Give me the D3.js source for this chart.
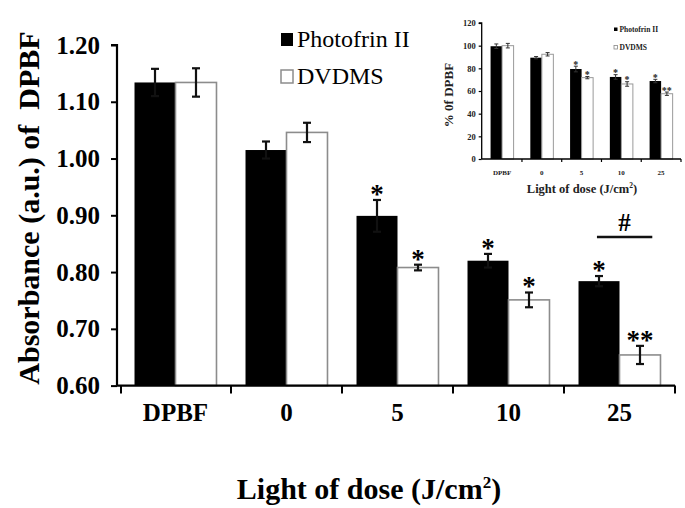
<!DOCTYPE html>
<html>
<head>
<meta charset="utf-8">
<script src="https://cdn.jsdelivr.net/npm/d3@7"></script>
<style>
  html, body { margin: 0; padding: 0; background: #fff; }
  svg { display: block; }
  text { font-family: "Liberation Serif", "Times New Roman", serif; }
</style>
</head>
<body>
<svg id="chart" width="685" height="508"></svg>
<script>
// ---------- Data (main chart) ----------
const categories = ["DPBF", "0", "5", "10", "25"];
const seriesNames = ["Photofrin II", "DVDMS"];
const photofrin = [1.134, 1.015, 0.899, 0.820, 0.784];
const photofrinErr = [0.024, 0.015, 0.028, 0.012, 0.009];
const dvdms = [1.134, 1.046, 0.808, 0.751, 0.654];
const dvdmsErr = [0.025, 0.017, 0.005, 0.013, 0.016];
const photofrinSig = ["", "", "*", "*", "*"];
const dvdmsSig = ["", "", "*", "*", "**"];
const yTicks = [0.60, 0.70, 0.80, 0.90, 1.00, 1.10, 1.20];
const hashCategory = "25";

// ---------- Data (inset) ----------
const insetPhotofrin = [99.5, 89.4, 79.4, 72.4, 68.8];
const insetPhotofrinErr = [2, 1, 2.5, 2, 1.5];
const insetDvdms = [100, 92.4, 71.8, 66.2, 57.6];
const insetDvdmsErr = [2, 1.5, 1, 2, 1.5];
const insetYTicks = [0, 20, 40, 60, 80, 100, 120];

const svg = d3.select("#chart");
const BLACK = "#000";
const GRAY = "#8c8c8c";

function buildRows(a, ae, b, be, sa, sb) {
  return categories.map((c, i) => ({
    cat: c,
    vals: [
      { s: seriesNames[0], v: a[i], e: ae[i], sig: sa ? sa[i] : "" },
      { s: seriesNames[1], v: b[i], e: be[i], sig: sb ? sb[i] : "" }
    ]
  }));
}

// ================= MAIN CHART =================
const main = {
  left: 117, right: 675, top: 45, bottom: 385.6,
  bandStart: 120
};
const rows = buildRows(photofrin, photofrinErr, dvdms, dvdmsErr, photofrinSig, dvdmsSig);

const x0 = d3.scaleBand().domain(categories).range([main.bandStart, main.right]).padding(0);
const x1 = d3.scaleBand().domain(seriesNames).range([0, x0.bandwidth()]).paddingInner(0).paddingOuter(0.354);
const y = d3.scaleLinear().domain([0.6, 1.2]).range([main.bottom, main.top]);

const gMain = svg.append("g");

// bars
const groups = gMain.selectAll("g.grp").data(rows).join("g")
  .attr("transform", d => `translate(${x0(d.cat)},0)`);

groups.selectAll("rect").data(d => d.vals).join("rect")
  .attr("x", d => x1(d.s))
  .attr("y", d => y(d.v))
  .attr("width", x1.bandwidth())
  .attr("height", d => y(0.6) - y(d.v))
  .attr("fill", d => d.s === seriesNames[0] ? BLACK : "#fff")
  .attr("stroke", d => d.s === seriesNames[0] ? "none" : GRAY)
  .attr("stroke-width", 1.6);

// error bars
const eb = groups.selectAll("g.eb").data(d => d.vals).join("g").attr("class", "eb")
  .attr("transform", d => `translate(${x1(d.s) + x1.bandwidth() / 2},0)`);
eb.append("line").attr("x1", 0).attr("x2", 0)
  .attr("y1", d => y(d.v + d.e)).attr("y2", d => y(d.v - d.e))
  .attr("stroke", "#111").attr("stroke-width", 2.2);
eb.append("line").attr("x1", -4).attr("x2", 4)
  .attr("y1", d => y(d.v + d.e)).attr("y2", d => y(d.v + d.e))
  .attr("stroke", "#111").attr("stroke-width", 2.2);
eb.append("line").attr("x1", -4).attr("x2", 4)
  .attr("y1", d => y(d.v - d.e)).attr("y2", d => y(d.v - d.e))
  .attr("stroke", "#111").attr("stroke-width", 2.2);

// significance asterisks
const asFs = 27;
groups.selectAll("text.sig").data(d => d.vals.filter(v => v.sig)).join("text")
  .attr("class", "sig")
  .attr("x", d => x1(d.s) + x1.bandwidth() / 2)
  .attr("y", d => y(d.v + d.e) - 10 + asFs * 0.48)
  .attr("text-anchor", "middle")
  .attr("font-size", asFs).attr("font-weight", "bold")
  .text(d => d.sig);

// hash bracket over last group
{
  const gx = x0(hashCategory);
  const lx1 = gx + x1(seriesNames[0]) + x1.bandwidth() * 0.45;
  const lx2 = gx + x1(seriesNames[1]) + x1.bandwidth() * 0.8;
  gMain.append("line").attr("x1", lx1).attr("x2", lx2).attr("y1", 237).attr("y2", 237)
    .attr("stroke", "#111").attr("stroke-width", 2.5);
  gMain.append("text").attr("x", (lx1 + lx2) / 2).attr("y", 231)
    .attr("text-anchor", "middle").attr("font-size", 25).attr("font-weight", "bold").text("#");
}

// y axis
const yAxis = d3.axisLeft(y).tickValues(yTicks).tickFormat(d3.format(".2f")).tickSize(6).tickPadding(11);
const gy = gMain.append("g").attr("transform", `translate(${main.left},0)`).call(yAxis);
gy.select(".domain").attr("stroke", BLACK).attr("stroke-width", 2.2).attr("d", `M-6,${main.top}H0V${main.bottom}`);
gy.selectAll(".tick line").attr("stroke", BLACK).attr("stroke-width", 2);
gy.selectAll(".tick text").attr("font-size", 25).attr("font-weight", "bold")
  .attr("font-family", "Liberation Serif, Times New Roman, serif").attr("fill", BLACK);

// x axis
const xAxis = d3.axisBottom(x0).tickSize(0).tickPadding(18);
const gx = gMain.append("g").attr("transform", `translate(0,${main.bottom})`).call(xAxis);
gx.select(".domain").attr("stroke", BLACK).attr("stroke-width", 2.2).attr("d", `M${main.left},0H${main.right}`);
gx.selectAll(".tick text").attr("font-size", 25).attr("font-weight", "bold")
  .attr("font-family", "Liberation Serif, Times New Roman, serif").attr("fill", BLACK);
gx.selectAll("line.bound").data(categories).join("line").attr("class", "bound")
  .attr("x1", d => x0(d) + x0.bandwidth()).attr("x2", d => x0(d) + x0.bandwidth())
  .attr("y1", 0).attr("y2", 8).attr("stroke", BLACK).attr("stroke-width", 2);
gx.append("line").attr("x1", main.bandStart + 1).attr("x2", main.bandStart + 1)
  .attr("y1", 0).attr("y2", 8).attr("stroke", BLACK).attr("stroke-width", 2);

// axis titles
const xt = gMain.append("text").attr("x", 369).attr("y", 499).attr("text-anchor", "middle")
  .attr("font-size", 30).attr("font-weight", "bold");
xt.append("tspan").text("Light of dose (J/cm");
xt.append("tspan").attr("font-size", 17).attr("dy", -11).text("2");
xt.append("tspan").attr("dy", 11).text(")");

gMain.append("text").attr("transform", "translate(39,208) rotate(-90)")
  .attr("text-anchor", "middle").attr("font-size", 30).attr("font-weight", "bold")
  .text("Absorbance (a.u.) of  DPBF").attr("xml:space", "preserve").style("white-space", "pre");

// legend
const leg = gMain.append("g");
seriesNames.forEach((s, i) => {
  const yy = 33 + i * 37;
  leg.append("rect").attr("x", 281).attr("y", yy).attr("width", 12).attr("height", 13)
    .attr("fill", i === 0 ? BLACK : "#fff").attr("stroke", i === 0 ? "none" : GRAY).attr("stroke-width", 1.5);
  leg.append("text").attr("x", 297).attr("y", yy + 14).attr("font-size", 24).text(s);
});

// ================= INSET =================
const ins = { left: 481.7, right: 681, top: 23, bottom: 159 };
const insRows = buildRows(insetPhotofrin, insetPhotofrinErr, insetDvdms, insetDvdmsErr, photofrinSig, dvdmsSig);
const ix0 = d3.scaleBand().domain(categories).range([ins.left + 0.5, ins.right]).padding(0);
const ix1 = d3.scaleBand().domain(seriesNames).range([0, ix0.bandwidth()]).paddingInner(0).paddingOuter(0.726);
const iy = d3.scaleLinear().domain([0, 120]).range([ins.bottom, ins.top]);

const gIns = svg.append("g");
const ig = gIns.selectAll("g.igrp").data(insRows).join("g")
  .attr("transform", d => `translate(${ix0(d.cat)},0)`);
ig.selectAll("rect").data(d => d.vals).join("rect")
  .attr("x", d => ix1(d.s)).attr("y", d => iy(d.v))
  .attr("width", ix1.bandwidth()).attr("height", d => iy(0) - iy(d.v))
  .attr("fill", d => d.s === seriesNames[0] ? BLACK : "#fff")
  .attr("stroke", d => d.s === seriesNames[0] ? "none" : "#9a9a9a")
  .attr("stroke-width", 1);
const ieb = ig.selectAll("g.ieb").data(d => d.vals).join("g")
  .attr("transform", d => `translate(${ix1(d.s) + ix1.bandwidth() / 2},0)`);
ieb.append("path")
  .attr("d", d => `M0,${iy(d.v + d.e)}V${iy(d.v - d.e)}M-2,${iy(d.v + d.e)}H2M-2,${iy(d.v - d.e)}H2`)
  .attr("stroke", "#333").attr("stroke-width", 1).attr("fill", "none");
ig.selectAll("text.isig").data(d => d.vals.filter(v => v.sig)).join("text")
  .attr("x", d => ix1(d.s) + ix1.bandwidth() / 2)
  .attr("y", d => iy(d.v + d.e) - 3 + 4.5)
  .attr("text-anchor", "middle").attr("font-size", 10).attr("font-weight", "bold")
  .attr("fill", "#222")
  .text(d => d.sig);

const iyAxis = d3.axisLeft(iy).tickValues(insetYTicks).tickFormat(d3.format("d")).tickSize(3).tickPadding(3);
const igy = gIns.append("g").attr("transform", `translate(${ins.left},0)`).call(iyAxis);
igy.select(".domain").attr("stroke", BLACK).attr("stroke-width", 1.3).attr("d", `M-3,${ins.top}H0V${ins.bottom}`);
igy.selectAll(".tick line").attr("stroke", BLACK).attr("stroke-width", 1.2);
igy.selectAll(".tick text").attr("font-size", 8.5).attr("font-weight", "bold")
  .attr("font-family", "Liberation Serif, Times New Roman, serif").attr("fill", "#222");

const ixAxis = d3.axisBottom(ix0).tickSize(0).tickPadding(11);
const igx = gIns.append("g").attr("transform", `translate(0,${ins.bottom})`).call(ixAxis);
igx.select(".domain").attr("stroke", BLACK).attr("stroke-width", 1.3).attr("d", `M${ins.left},0H${ins.right}`);
igx.selectAll(".tick text").attr("font-size", 7).attr("font-weight", "bold")
  .attr("font-family", "Liberation Serif, Times New Roman, serif").attr("fill", "#222");
igx.selectAll("line.ib").data(categories).join("line")
  .attr("x1", d => ix0(d) + ix0.bandwidth()).attr("x2", d => ix0(d) + ix0.bandwidth())
  .attr("y1", 0).attr("y2", 3).attr("stroke", BLACK).attr("stroke-width", 1.2);

const ixt = gIns.append("text").attr("x", 582).attr("y", 193).attr("text-anchor", "middle")
  .attr("font-size", 12.5).attr("font-weight", "bold").attr("fill", "#222");
ixt.append("tspan").text("Light of dose (J/cm");
ixt.append("tspan").attr("font-size", 7.5).attr("dy", -5).text("2");
ixt.append("tspan").attr("dy", 5).text(")");

gIns.append("text").attr("transform", "translate(453,95) rotate(-90)")
  .attr("text-anchor", "middle").attr("font-size", 13).attr("font-weight", "bold").attr("fill", "#222")
  .text("% 0f DPBF");

seriesNames.forEach((s, i) => {
  const yy = 27.5 + i * 18;
  gIns.append("rect").attr("x", 614).attr("y", yy).attr("width", 3.5).attr("height", 3.5)
    .attr("fill", i === 0 ? BLACK : "#fff").attr("stroke", i === 0 ? "none" : "#888").attr("stroke-width", 0.8);
  gIns.append("text").attr("x", 619.5).attr("y", yy + 4).attr("font-size", 7.5).attr("font-weight", "bold")
    .attr("fill", "#222").text(s);
});
</script>
</body>
</html>
